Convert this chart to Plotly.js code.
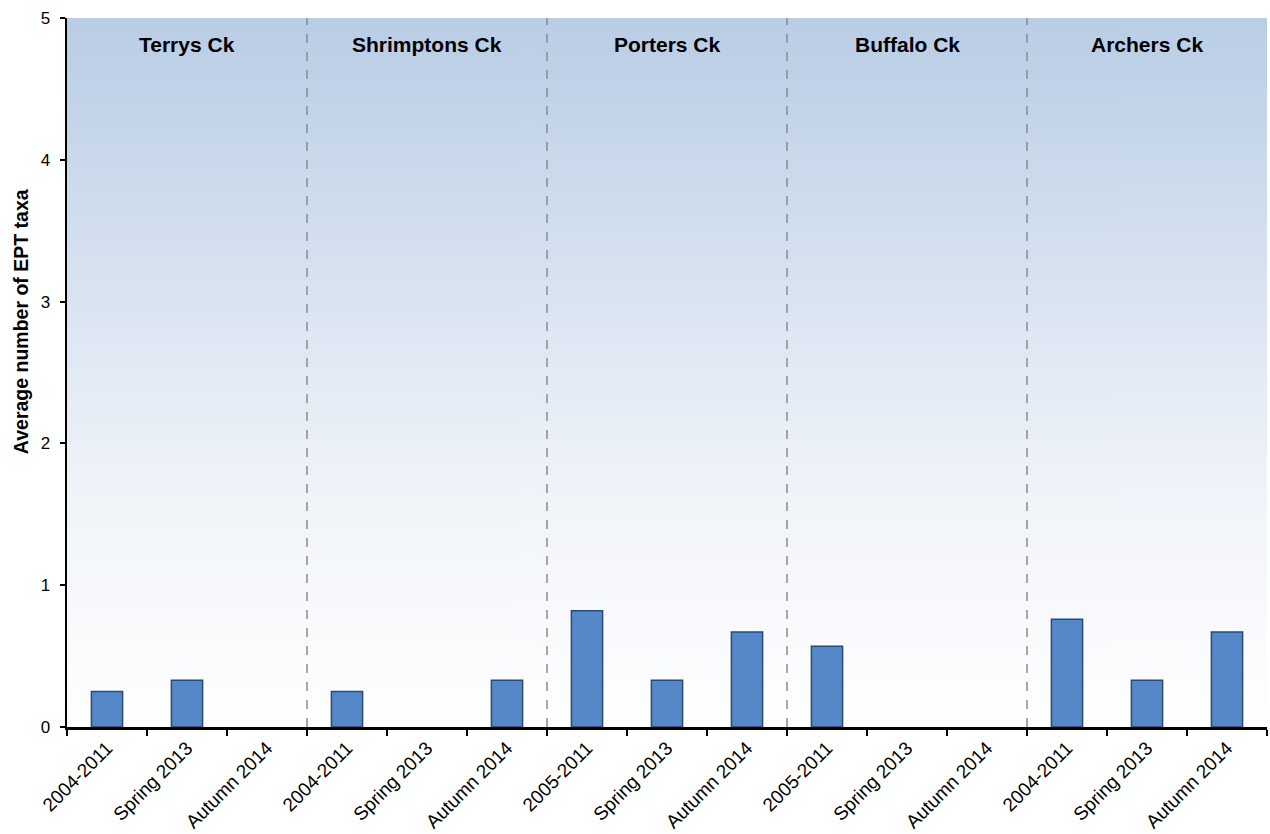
<!DOCTYPE html>
<html>
<head>
<meta charset="utf-8">
<script src="https://cdn.plot.ly/plotly-3.0.1.min.js"></script>
<style>
  html, body { margin: 0; padding: 0; background: #ffffff; }
  #chart { width: 1270px; height: 834px; }
</style>
</head>
<body>
<div id="chart"></div>
<script>
// Creek sites and the sampling periods shown for each
const sites = ["Terrys Ck", "Shrimptons Ck", "Porters Ck", "Buffalo Ck", "Archers Ck"];
const terrysPeriods = ["2004-2011", "Spring 2013", "Autumn 2014"];
const shrimptonsPeriods = ["2004-2011", "Spring 2013", "Autumn 2014"];
const portersPeriods = ["2005-2011", "Spring 2013", "Autumn 2014"];
const buffaloPeriods = ["2005-2011", "Spring 2013", "Autumn 2014"];
const archersPeriods = ["2004-2011", "Spring 2013", "Autumn 2014"];

// Average number of EPT taxa per site and period
const terrysValues = [0.25, 0.33, 0];
const shrimptonsValues = [0.25, 0, 0.33];
const portersValues = [0.82, 0.33, 0.67];
const buffaloValues = [0.57, 0, 0];
const archersValues = [0.76, 0.33, 0.67];

const yTicks = [0, 1, 2, 3, 4, 5];
const yTitle = "Average number of EPT taxa";

const periodsBySite = [terrysPeriods, shrimptonsPeriods, portersPeriods, buffaloPeriods, archersPeriods];
const valuesBySite = [terrysValues, shrimptonsValues, portersValues, buffaloValues, archersValues];

// Unique category keys (site + period), labelled with the period only
const keys = [], labels = [], values = [];
periodsBySite.forEach((periods, s) => {
  periods.forEach((p, i) => {
    keys.push(sites[s] + " | " + p);
    labels.push(p);
    values.push(valuesBySite[s][i]);
  });
});

// Vertical blue-to-white gradient for the plotting area
function gradientImage() {
  const c = document.createElement("canvas");
  c.width = 4; c.height = 512;
  const g = c.getContext("2d");
  const grad = g.createLinearGradient(0, 0, 0, 512);
  grad.addColorStop(0, "#b9cde5");
  grad.addColorStop(0.65, "#eff3f9");
  grad.addColorStop(1, "#ffffff");
  g.fillStyle = grad;
  g.fillRect(0, 0, 4, 512);
  return c.toDataURL("image/png");
}

const font = "Arial, 'Liberation Sans', sans-serif";

const trace = {
  type: "bar",
  x: keys,
  y: values,
  width: 0.39,
  marker: {
    color: "#5688c9",
    // no outline on empty (zero) bars
    line: { color: "#2a4a72", width: values.map(v => (v > 0 ? 1.5 : 0)) }
  },
  hoverinfo: "x+y",
  showlegend: false
};

// Dashed separators between sites
const shapes = [];
for (let s = 1; s < sites.length; s++) {
  const edge = periodsBySite.slice(0, s).reduce((a, p) => a + p.length, 0) - 0.5;
  shapes.push({
    type: "line", xref: "x", yref: "paper",
    x0: edge, x1: edge, y0: 0, y1: 1,
    line: { color: "#8c8c8c", width: 1.5, dash: "dash" },
    layer: "below"
  });
}

// Site names centred over each group
const annotations = [];
let start = 0;
periodsBySite.forEach((periods, s) => {
  annotations.push({
    x: start + (periods.length - 1) / 2, xref: "x",
    y: 0.962, yref: "paper",
    xanchor: "center", yanchor: "middle",
    text: "<b>" + sites[s] + "</b>",
    showarrow: false,
    font: { family: font, size: 21, color: "#000000" }
  });
  start += periods.length;
});

// Y axis title, set a little above the middle of the axis
annotations.push({
  x: 0, xref: "paper", xanchor: "center", xshift: -46,
  y: 0.571, yref: "paper", yanchor: "middle",
  text: "<b>" + yTitle + "</b>",
  textangle: -90,
  showarrow: false,
  font: { family: font, size: 19.5, color: "#000000" }
});

const layout = {
  width: 1270,
  height: 834,
  margin: { l: 67, r: 3, t: 18, b: 107 },
  paper_bgcolor: "#ffffff",
  plot_bgcolor: "rgba(0,0,0,0)",
  font: { family: font, color: "#000000" },
  images: [{
    source: gradientImage(),
    xref: "paper", yref: "paper",
    x: 0, y: 1, sizex: 1, sizey: 1,
    xanchor: "left", yanchor: "top",
    sizing: "stretch", layer: "below"
  }],
  xaxis: {
    type: "category",
    tickvals: keys,
    ticktext: labels,
    tickangle: -45,
    tickson: "boundaries",
    ticks: "outside",
    ticklen: 6,
    tickwidth: 2,
    tickcolor: "#000000",
    tickfont: { size: 19 },
    showline: true,
    linecolor: "#000000",
    linewidth: 2.5,
    showgrid: false,
    zeroline: false,
    range: [-0.5, keys.length - 0.5]
  },
  yaxis: {
    range: [0, 5],
    tickvals: yTicks,
    ticks: "outside",
    ticklen: 5,
    tickwidth: 2,
    tickcolor: "#000000",
    tickfont: { size: 17 },
    ticklabelstandoff: 6,
    showline: true,
    linecolor: "#000000",
    linewidth: 2.5,
    showgrid: false,
    zeroline: false
  },
  shapes: shapes,
  annotations: annotations
};

Plotly.newPlot("chart", [trace], layout, { displayModeBar: false, staticPlot: true });
</script>
</body>
</html>
